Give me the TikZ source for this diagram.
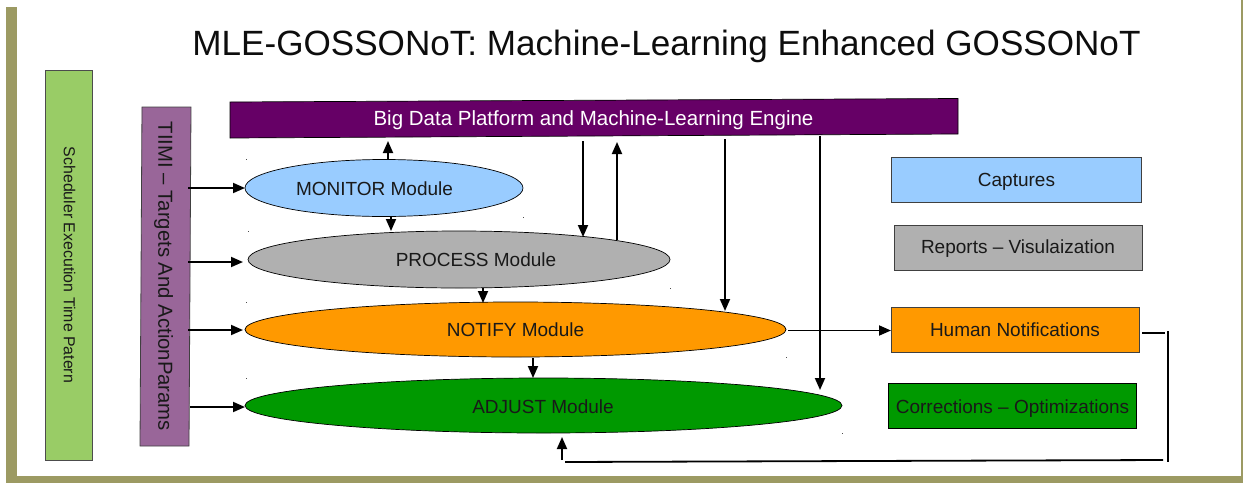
\documentclass[tikz,border=0pt]{standalone}
\usepackage{fontspec}
\setmainfont{Liberation Sans}
\usetikzlibrary{shapes.geometric,arrows.meta}
\definecolor{olive}{HTML}{9C9A63}
\definecolor{lgreen}{HTML}{99CC66}
\definecolor{mauve}{HTML}{996699}
\definecolor{deep}{HTML}{660066}
\definecolor{sky}{HTML}{99CCFF}
\definecolor{gry}{HTML}{B0B0B0}
\definecolor{org}{HTML}{FF9900}
\definecolor{grn}{HTML}{009900}
\tikzset{
  x=1pt,y=-1pt,
  modell/.style={ellipse,draw=black,line width=0.7pt,inner sep=0pt},
  legendbox/.style={draw=black!75,line width=0.9pt,inner sep=0pt},
  modtext/.style={font=\fontsize{19}{22}\selectfont,text=black!90,inner sep=0pt},
  arr/.style={draw=black,line width=1.8pt,-{Triangle[length=12pt,width=10pt]}},
  plainline/.style={draw=black,line width=1.8pt},
  speck/.style={fill=black!70,inner sep=0pt,minimum size=0.8pt,shape=rectangle},
}
\begin{document}
\begin{tikzpicture}
\useasboundingbox (0,0) rectangle (1243,483);
\fill[white] (0,0) rectangle (1243,483);
% frame
\fill[olive] (6,7) rectangle (17,483);
\fill[olive] (6,476) rectangle (1243,483);
\fill[olive] (1241,0) rectangle (1243,483);
% title
\node[font=\fontsize{35.1}{42}\selectfont,inner sep=0pt,text=black!95] (title) at (666.5,46) {MLE-GOSSONoT: Machine-Learning Enhanced GOSSONoT};
% side bars
\node[draw=black!70,fill=lgreen,line width=0.8pt,minimum width=47.5pt,minimum height=390pt,inner sep=0pt] (sched) at (69,265) {};
\node[rotate=-90,font=\fontsize{15.9}{18}\selectfont,inner sep=0pt,text=black!90] (schedt) at (69.5,265) {Scheduler Execution Time Patern};
\draw[draw=black!75,fill=mauve,line width=0.8pt] (142,107) -- (191,107) -- (189,446) -- (140,446) -- cycle;
\node[rotate=-90,font=\fontsize{20.3}{24}\selectfont,inner sep=0pt,text=black!90] (tiimi) at (163.5,276.5) {TIIMI – Targets And ActionParams};
% big data bar
\draw[draw=black,fill=deep,line width=0.7pt] (230,102) -- (958,98.5) -- (958,134) -- (230,138) -- cycle;
\node[font=\fontsize{20.5}{24}\selectfont,inner sep=0pt,text=white] (bigt) at (593.5,120.5) {Big Data Platform and Machine-Learning Engine};
% modules
\node[modell,fill=sky,minimum width=278pt,minimum height=57pt] (mon) at (384,188) {};
\node[modell,fill=gry,minimum width=422pt,minimum height=57pt] (pro) at (459,259.5) {};
\node[modell,fill=org,minimum width=541pt,minimum height=55pt] (noti) at (515.5,329.5) {};
\node[modell,fill=grn,minimum width=597pt,minimum height=55pt] (adj) at (543.5,405.5) {};
\node[modtext] at (374.5,189) {MONITOR Module};
\node[modtext] at (476,260) {PROCESS Module};
\node[modtext] at (515.5,330) {NOTIFY Module};
\node[modtext] at (543,407) {ADJUST Module};
% legend
\node[legendbox,fill=sky,minimum width=250pt,minimum height=45pt] (cap) at (1016.5,179.5) {};
\node[legendbox,fill=gry,minimum width=248pt,minimum height=45pt] (rep) at (1018,248) {};
\node[legendbox,fill=org,minimum width=248pt,minimum height=45pt] (hum) at (1015,329.5) {};
\node[legendbox,fill=grn,minimum width=248pt,minimum height=45pt,draw=black] (cor) at (1012.5,406) {};
\node[modtext] at (1016.5,182) {Captures};
\node[modtext] at (1018,248.5) {Reports – Visulaization};
\node[modtext] at (1015,329.5) {Human Notifications};
\node[modtext] at (1012.5,408.5) {Corrections – Optimizations};
% free ends
\coordinate (t1) at (188,188);\coordinate (t1e) at (245,188);
\coordinate (t2) at (188,262);\coordinate (t2e) at (243,262);
\coordinate (t3) at (188,330);\coordinate (t3e) at (243,330);
\coordinate (t4) at (190,407);\coordinate (t4e) at (245,407);
\coordinate (a1) at (388,159);\coordinate (a1e) at (388,141);
\coordinate (a2) at (391,217);\coordinate (a2e) at (391,231);
\coordinate (a3) at (483,288);\coordinate (a3e) at (483,303);
\coordinate (a4) at (533,358);\coordinate (a4e) at (533,378);
\coordinate (b1) at (583,141);\coordinate (b1e) at (583,237);
\coordinate (b2) at (617,240);\coordinate (b2e) at (617,142);
\coordinate (b3) at (725,139);\coordinate (b3e) at (725,311);
\coordinate (b4) at (820,136);\coordinate (b4e) at (820,390);
\coordinate (n1) at (788,330.5);\coordinate (n1e) at (891,330.5);
\coordinate (h1) at (1142,333);\coordinate (h1e) at (1165,333);
\coordinate (h2) at (1168,331);\coordinate (h2e) at (1168,462);
\coordinate (h3) at (1163,460);\coordinate (h3e) at (565,462);
\coordinate (h4) at (562,460);\coordinate (h4e) at (562,437);
% connectors
\draw[arr] (t1) -- (t1e);
\draw[arr] (t2) -- (t2e);
\draw[arr] (t3) -- (t3e);
\draw[arr] (t4) -- (t4e);
\draw[arr] (a1) -- (a1e);
\draw[arr] (a2) -- (a2e);
\draw[arr] (a3) -- (a3e);
\draw[arr] (a4) -- (a4e);
\draw[arr] (b1) -- (b1e);
\draw[arr] (b2) -- (b2e);
\draw[arr] (b3) -- (b3e);
\draw[arr] (b4) -- (b4e);
\draw[arr] (n1) -- (n1e);
\draw[plainline] (h1) -- (h1e);
\draw[plainline] (h2) -- (h2e);
\draw[plainline] (h3) -- (h3e);
\draw[arr] (h4) -- (h4e);
% specks
\foreach \p in {(246.5,159.5),(248.5,231),(246.5,302),(246.5,378.5),(523,217.5),(670.5,288.5),(786.5,357),(842,433)}
  \node[speck] at \p {};
\end{tikzpicture}
\end{document}
